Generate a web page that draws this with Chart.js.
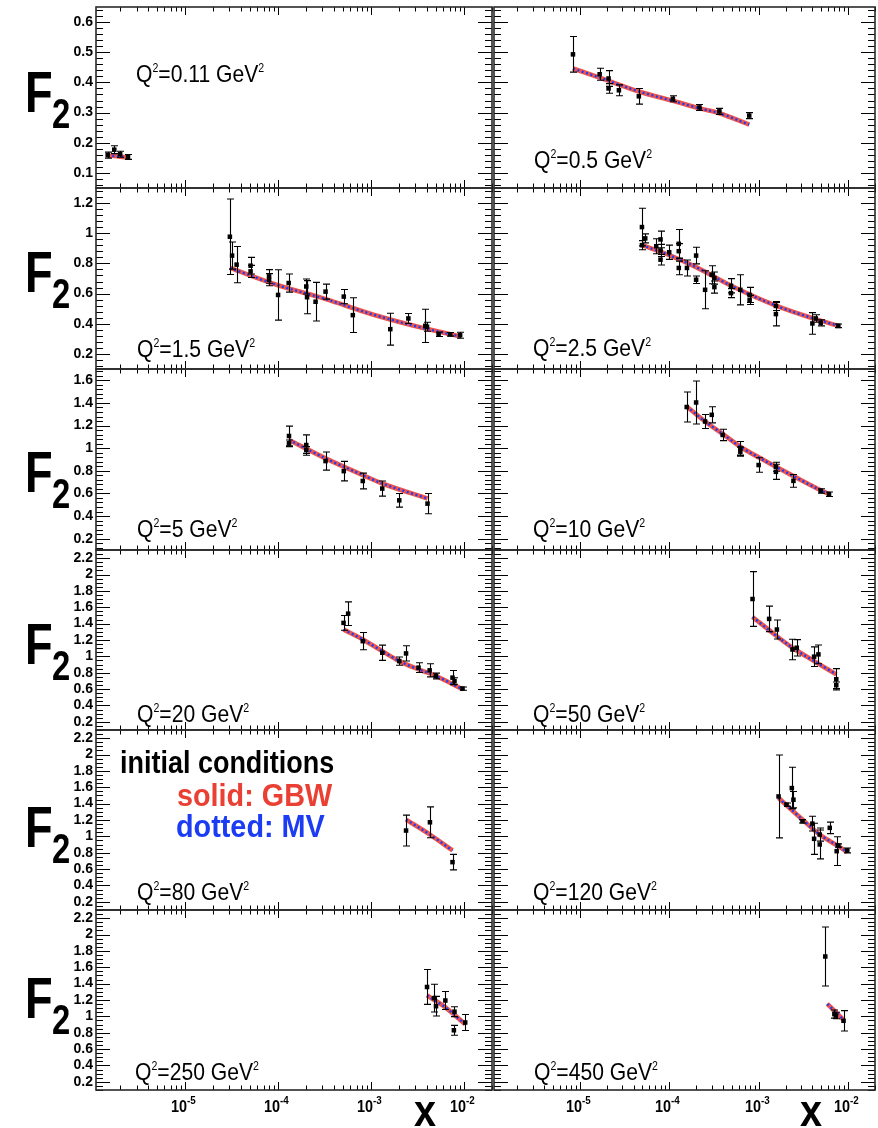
<!DOCTYPE html>
<html>
<head>
<meta charset="utf-8">
<title>F2 vs x</title>
<script src="https://cdn.jsdelivr.net/npm/chart.js@4.4.1/dist/chart.umd.min.js"></script>
<style>
  html, body { margin: 0; padding: 0; background: #fff; }
  #figura { position: relative; width: 878px; height: 1128px; overflow: hidden;
            font-family: "Liberation Sans", Arial, Helvetica, sans-serif; color: #000; }
  #figura canvas { position: absolute; }
  .rotulo { position: absolute; white-space: nowrap; transform-origin: 0 0; }
  .rotulo sup { font-size: 0.5em; vertical-align: 0.8em; line-height: 0; }
  .expoente sup { font-size: 0.68em; vertical-align: 0.7em; }
</style>
</head>
<body>
<div id="figura"></div>
<script>
const X_MIN = 1.1e-6;
const X_MAX = 0.02;

// Q2 = 0.11 GeV2
const x_011 = [1.47e-6, 1.73e-6, 2.0e-6, 2.43e-6];
const f2_011 = [0.159, 0.177, 0.162, 0.153];
const err_011 = [0.010, 0.013, 0.010, 0.008];
const fitX_011 = [1.47e-6, 2.0e-6, 2.5e-6];
const fitY_011 = [0.158, 0.154, 0.150];

// Q2 = 0.5 GeV2
const x_05 = [8.4e-6, 1.67e-5, 2.1e-5, 2.1e-5, 2.74e-5, 4.58e-5, 1.1e-4, 2.18e-4, 3.64e-4, 7.85e-4];
const f2_05 = [0.493, 0.427, 0.413, 0.380, 0.374, 0.354, 0.346, 0.317, 0.304, 0.290];
const err_05 = [0.059, 0.020, 0.026, 0.016, 0.018, 0.026, 0.010, 0.010, 0.010, 0.010];
const fitX_05 = [8.4e-6, 1.67e-5, 4.58e-5, 1.1e-4, 2.18e-4, 3.64e-4, 7.85e-4];
const fitY_05 = [0.446, 0.416, 0.370, 0.339, 0.314, 0.298, 0.260];

// Q2 = 1.5 GeV2
const x_15 = [3.03e-5, 3.2e-5, 3.58e-5, 5.06e-5, 5.06e-5, 8.0e-5, 8.0e-5, 1.0e-4, 1.3e-4, 2.01e-4, 2.05e-4,
              2.53e-4, 3.24e-4, 5.09e-4, 6.37e-4, 1.61e-3, 2.52e-3, 3.83e-3, 4.0e-3, 5.33e-3, 7.1e-3, 9.08e-3];
const f2_15 = [0.977, 0.852, 0.792, 0.785, 0.747, 0.714, 0.692, 0.591, 0.670, 0.647, 0.576,
               0.546, 0.613, 0.580, 0.457, 0.364, 0.435, 0.386, 0.380, 0.330, 0.330, 0.324];
const err_15 = [0.25, 0.09, 0.12, 0.055, 0.04, 0.045, 0.04, 0.167, 0.06, 0.05, 0.11,
                0.128, 0.05, 0.047, 0.115, 0.106, 0.033, 0.11, 0.03, 0.015, 0.012, 0.02];
const fitX_15 = [3.03e-5, 1.0e-4, 3.2e-4, 1.0e-3, 3.2e-3, 9.1e-3];
const fitY_15 = [0.770, 0.655, 0.565, 0.465, 0.380, 0.315];

// Q2 = 2.5 GeV2
const x_25 = [4.96e-5, 4.96e-5, 5.4e-5, 7.16e-5, 8.0e-5, 8.0e-5, 8.0e-5, 1.0e-4, 1.28e-4, 1.28e-4, 1.28e-4,
              1.58e-4, 2.0e-4, 2.0e-4, 2.52e-4, 2.99e-4, 3.2e-4, 3.2e-4, 4.91e-4, 4.91e-4, 6.24e-4,
              7.93e-4, 7.93e-4, 1.56e-3, 1.56e-3, 3.99e-3, 4.35e-3, 4.95e-3, 7.78e-3];
const f2_25 = [1.041, 0.921, 0.966, 0.914, 0.959, 0.886, 0.825, 0.874, 0.930, 0.881, 0.770,
               0.770, 0.852, 0.692, 0.625, 0.725, 0.703, 0.643, 0.652, 0.603, 0.625,
               0.591, 0.558, 0.464, 0.518, 0.402, 0.435, 0.406, 0.386];
const err_25 = [0.125, 0.03, 0.03, 0.05, 0.055, 0.04, 0.035, 0.047, 0.095, 0.05, 0.045,
                0.053, 0.055, 0.025, 0.126, 0.06, 0.04, 0.04, 0.047, 0.03, 0.10,
                0.05, 0.03, 0.078, 0.03, 0.072, 0.025, 0.02, 0.012];
const fitX_25 = [4.96e-5, 1.0e-4, 2.0e-4, 5.0e-4, 1.56e-3, 4.0e-3, 7.8e-3];
const fitY_25 = [0.921, 0.855, 0.775, 0.650, 0.520, 0.437, 0.386];

// Q2 = 5 GeV2
const x_5 = [1.31e-4, 1.31e-4, 2.01e-4, 2.01e-4, 3.24e-4, 5.09e-4, 8.15e-4, 1.32e-3, 2.01e-3, 4.05e-3];
const f2_5 = [1.108, 1.043, 1.028, 0.984, 0.886, 0.797, 0.710, 0.643, 0.539, 0.510];
const err_5 = [0.087, 0.03, 0.09, 0.03, 0.08, 0.086, 0.07, 0.067, 0.06, 0.09];
const fitX_5 = [1.31e-4, 3.24e-4, 8.15e-4, 1.32e-3, 4.05e-3];
const fitY_5 = [1.073, 0.910, 0.762, 0.688, 0.555];

// Q2 = 10 GeV2
const x_10 = [1.57e-4, 2.0e-4, 2.52e-4, 2.99e-4, 3.96e-4, 6.24e-4, 6.24e-4, 1.0e-3, 1.56e-3, 1.56e-3,
              2.45e-3, 4.94e-3, 6.12e-3];
const f2_10 = [1.364, 1.404, 1.236, 1.295, 1.117, 0.999, 0.969, 0.851, 0.791, 0.836,
               0.711, 0.622, 0.593];
const err_10 = [0.133, 0.19, 0.062, 0.071, 0.05, 0.06, 0.04, 0.064, 0.067, 0.04,
                0.056, 0.02, 0.02];
const fitX_10 = [1.57e-4, 2.52e-4, 3.96e-4, 6.24e-4, 1.0e-3, 1.56e-3, 2.45e-3, 4.94e-3, 6.3e-3];
const fitY_10 = [1.369, 1.236, 1.126, 1.013, 0.919, 0.836, 0.753, 0.628, 0.590];

// Q2 = 20 GeV2
const x_20 = [5.06e-4, 5.67e-4, 8.15e-4, 1.32e-3, 2.01e-3, 2.38e-3, 3.24e-3, 4.27e-3, 4.99e-3, 7.52e-3, 7.9e-3, 9.64e-3];
const f2_20 = [1.409, 1.522, 1.186, 1.044, 0.942, 1.036, 0.862, 0.829, 0.760, 0.740, 0.699, 0.606];
const err_20 = [0.09, 0.144, 0.105, 0.093, 0.05, 0.093, 0.06, 0.08, 0.035, 0.087, 0.04, 0.02];
const fitX_20 = [5.06e-4, 8.15e-4, 1.32e-3, 2.01e-3, 3.24e-3, 4.99e-3, 9.64e-3];
const fitY_20 = [1.328, 1.206, 1.064, 0.942, 0.841, 0.760, 0.598];

// Q2 = 50 GeV2
const x_50 = [8.55e-4, 1.31e-3, 1.6e-3, 2.39e-3, 2.67e-3, 4.17e-3, 4.66e-3, 7.38e-3, 7.38e-3];
const f2_50 = [1.701, 1.458, 1.328, 1.084, 1.105, 0.996, 1.024, 0.720, 0.647];
const err_50 = [0.335, 0.156, 0.116, 0.126, 0.10, 0.12, 0.115, 0.13, 0.04];
const fitX_50 = [8.55e-4, 1.6e-3, 2.39e-3, 4.17e-3, 7.38e-3];
const fitY_50 = [1.482, 1.246, 1.105, 0.942, 0.780];

// Q2 = 80 GeV2
const x_80 = [2.38e-3, 4.3e-3, 7.52e-3];
const f2_80 = [1.071, 1.172, 0.685];
const err_80 = [0.189, 0.189, 0.095];
const fitX_80 = [2.38e-3, 4.3e-3, 7.52e-3];
const fitY_80 = [1.205, 1.022, 0.828];

// Q2 = 120 GeV2
const x_120 = [1.67e-3, 2.05e-3, 2.35e-3, 2.45e-3, 3.09e-3, 3.99e-3, 4.17e-3, 4.82e-3, 4.82e-3, 6.24e-3,
               7.46e-3, 7.78e-3, 9.8e-3];
const f2_120 = [1.488, 1.387, 1.590, 1.448, 1.184, 1.156, 0.970, 0.901, 1.022, 1.104,
                0.819, 0.888, 0.828];
const err_120 = [0.507, 0.02, 0.255, 0.10, 0.02, 0.09, 0.19, 0.176, 0.08, 0.07,
                 0.176, 0.02, 0.03];
const fitX_120 = [1.67e-3, 3.09e-3, 4.82e-3, 7.78e-3, 9.8e-3];
const fitY_120 = [1.469, 1.205, 1.022, 0.880, 0.807];

// Q2 = 250 GeV2
const x_250 = [4.0e-3, 4.77e-3, 5.0e-3, 6.3e-3, 7.78e-3, 7.9e-3, 1.03e-2];
const f2_250 = [1.359, 1.223, 1.124, 1.194, 0.830, 1.057, 0.925];
const err_250 = [0.213, 0.17, 0.12, 0.11, 0.06, 0.06, 0.097];
const fitX_250 = [4.0e-3, 6.3e-3, 1.03e-2];
const fitY_250 = [1.256, 1.110, 0.904];

// Q2 = 450 GeV2
const x_450 = [5.56e-3, 7.03e-3, 7.3e-3, 8.9e-3];
const f2_450 = [1.732, 1.028, 1.010, 0.946];
const err_450 = [0.36, 0.05, 0.04, 0.124];
const fitX_450 = [5.86e-3, 8.9e-3];
const fitY_450 = [1.152, 0.958];

// eixos
const yMin = [0.05, 0.1, 0.1, 0.1, 0.1, 0.1];
const yMax = [0.65, 1.3, 1.7, 2.3, 2.3, 2.3];
const yTicks1 = [0.1, 0.2, 0.3, 0.4, 0.5, 0.6];
const yTicks2 = [0.2, 0.4, 0.6, 0.8, 1, 1.2];
const yTicks3 = [0.2, 0.4, 0.6, 0.8, 1, 1.2, 1.4, 1.6];
const yTicks4 = [0.2, 0.4, 0.6, 0.8, 1, 1.2, 1.4, 1.6, 1.8, 2, 2.2];
const yTicksLinha = [yTicks1, yTicks2, yTicks3, yTicks4, yTicks4, yTicks4];
const yPassoMenor = [0.02, 0.04, 0.04, 0.05, 0.05, 0.05];
const xDecadas = [1e-5, 1e-4, 1e-3, 1e-2];
const xExpoentes = ["-5", "-4", "-3", "-2"];

const paineis = [
    { q2: "0.11", x: x_011, f2: f2_011, err: err_011, fitX: fitX_011, fitY: fitY_011 },
    { q2: "0.5", x: x_05, f2: f2_05, err: err_05, fitX: fitX_05, fitY: fitY_05 },
    { q2: "1.5", x: x_15, f2: f2_15, err: err_15, fitX: fitX_15, fitY: fitY_15 },
    { q2: "2.5", x: x_25, f2: f2_25, err: err_25, fitX: fitX_25, fitY: fitY_25 },
    { q2: "5", x: x_5, f2: f2_5, err: err_5, fitX: fitX_5, fitY: fitY_5 },
    { q2: "10", x: x_10, f2: f2_10, err: err_10, fitX: fitX_10, fitY: fitY_10 },
    { q2: "20", x: x_20, f2: f2_20, err: err_20, fitX: fitX_20, fitY: fitY_20 },
    { q2: "50", x: x_50, f2: f2_50, err: err_50, fitX: fitX_50, fitY: fitY_50 },
    { q2: "80", x: x_80, f2: f2_80, err: err_80, fitX: fitX_80, fitY: fitY_80 },
    { q2: "120", x: x_120, f2: f2_120, err: err_120, fitX: fitX_120, fitY: fitY_120 },
    { q2: "250", x: x_250, f2: f2_250, err: err_250, fitX: fitX_250, fitY: fitY_250 },
    { q2: "450", x: x_450, f2: f2_450, err: err_450, fitX: fitX_450, fitY: fitY_450 }
];

// geometria dos pads (px)
const topoLinha = [7, 188, 369, 550, 730, 910];
const baseLinha = [188, 369, 550, 730, 910, 1090];
const esqColuna = [96, 493];
const dirColuna = [493, 876];
const posQ2 = [[136, 82], [534, 168], [137, 357], [533, 356], [137, 537], [533, 537],
               [137, 722], [533, 722], [137, 900], [533, 900], [135, 1080], [534, 1080]];
const baseF2 = [112, 292, 492, 664, 847, 1018];

const figura = document.getElementById("figura");
const FONTE = "'Liberation Sans', Arial, Helvetica, sans-serif";

function adicionarTexto(html, esquerda, base, tamanho, opcoes = {}) {
    const div = document.createElement("div");
    div.className = "rotulo" + (opcoes.classe ? " " + opcoes.classe : "");
    div.innerHTML = html;
    div.style.left = esquerda + "px";
    div.style.top = (base - 0.8465 * tamanho) + "px";
    div.style.fontSize = tamanho + "px";
    div.style.lineHeight = tamanho + "px";
    if (opcoes.negrito) div.style.fontWeight = "bold";
    if (opcoes.cor) div.style.color = opcoes.cor;
    if (opcoes.escala) div.style.transform = `scaleX(${opcoes.escala})`;
    figura.appendChild(div);
    return div;
}

function linhaNitida(ctx, x1, y1, x2, y2) {
    ctx.moveTo(x1, y1);
    ctx.lineTo(x2, y2);
}

// moldura, marcas dos eixos e barras de erro de cada pad
const decoracaoPad = {
    id: "decoracaoPad",
    afterDatasetsDraw(chart) {
        const ctx = chart.ctx;
        const xs = chart.scales.x;
        const ys = chart.scales.y;
        const pontos = chart.data.datasets[0];
        ctx.save();
        ctx.strokeStyle = "#000";
        ctx.lineWidth = 1.1;
        ctx.beginPath();
        pontos.data.forEach((p, i) => {
            const e = pontos.erros[i];
            const px = Math.round(xs.getPixelForValue(p.x)) + 0.5;
            const topo = ys.getPixelForValue(p.y + e);
            const base = ys.getPixelForValue(p.y - e);
            linhaNitida(ctx, px, topo, px, base);
            linhaNitida(ctx, px - 3.5, topo, px + 3.5, topo);
            linhaNitida(ctx, px - 3.5, base, px + 3.5, base);
        });
        ctx.stroke();
        ctx.restore();
    },
    afterDraw(chart, args, opcoes) {
        const ctx = chart.ctx;
        const xs = chart.scales.x;
        const ys = chart.scales.y;
        const { left, right, top, bottom } = chart.chartArea;
        const linha = opcoes.linha;
        ctx.save();
        ctx.strokeStyle = "#000";
        ctx.lineWidth = 1;
        ctx.beginPath();
        for (let k = -6; k <= -2; k++) {
            for (let m = 1; m <= 9; m++) {
                const v = m * Math.pow(10, k);
                if (v < X_MIN || v > X_MAX) continue;
                const px = Math.round(xs.getPixelForValue(v)) + 0.5;
                const comp = m === 1 ? 8 : 4.5;
                linhaNitida(ctx, px, top, px, top + comp);
                linhaNitida(ctx, px, bottom, px, bottom - comp);
            }
        }
        const passo = yPassoMenor[linha];
        const maiores = yTicksLinha[linha];
        for (let j = Math.ceil(yMin[linha] / passo); j * passo <= yMax[linha] + 1e-9; j++) {
            const v = j * passo;
            const py = Math.round(ys.getPixelForValue(v)) + 0.5;
            const maior = maiores.some(t => Math.abs(t - v) < 1e-6);
            const comp = maior ? 14 : 7;
            linhaNitida(ctx, left, py, left + comp, py);
            linhaNitida(ctx, right, py, right - comp, py);
        }
        ctx.stroke();
        ctx.strokeStyle = "#2a2a2a";
        ctx.lineWidth = 1.6;
        ctx.strokeRect(left, top, right - left, bottom - top);
        ctx.restore();
    }
};

function renderizarPainel(i) {
    const linha = Math.floor(i / 2);
    const coluna = i % 2;
    const p = paineis[i];
    // a folga de 12 px acima e abaixo cobre a meia altura dos rótulos do eixo y
    const margem = { left: coluna === 0 ? 40 : 3, right: 3, top: 12, bottom: linha === 5 ? 40 : 12 };
    const largura = dirColuna[coluna] - esqColuna[coluna] + margem.left + margem.right;
    const altura = baseLinha[linha] - topoLinha[linha] + margem.top + margem.bottom;
    const esquerdaCanvas = esqColuna[coluna] - margem.left;

    const canvas = document.createElement("canvas");
    canvas.width = largura;
    canvas.height = altura;
    canvas.style.left = esquerdaCanvas + "px";
    canvas.style.top = (topoLinha[linha] - margem.top) + "px";
    canvas.style.width = largura + "px";
    canvas.style.height = altura + "px";
    figura.appendChild(canvas);

    const curva = p.fitX.map((v, k) => ({ x: v, y: p.fitY[k] }));
    const grafico = new Chart(canvas, {
        type: "scatter",
        data: {
            datasets: [
                {
                    label: "dados",
                    data: p.x.map((v, k) => ({ x: v, y: p.f2[k] })),
                    erros: p.err,
                    pointStyle: "rect",
                    pointRadius: 3.2,
                    backgroundColor: "#000",
                    borderWidth: 0,
                    order: 0
                },
                {
                    label: "MV",
                    data: curva,
                    showLine: true,
                    borderColor: "#1f3cf2",
                    borderWidth: 2.4,
                    borderDash: [2, 2.6],
                    pointRadius: 0,
                    cubicInterpolationMode: "monotone",
                    order: 1
                },
                {
                    label: "GBW",
                    data: curva,
                    showLine: true,
                    borderColor: "rgba(236, 68, 58, 0.9)",
                    borderWidth: 4.6,
                    pointRadius: 0,
                    cubicInterpolationMode: "monotone",
                    order: 2
                }
            ]
        },
        options: {
            responsive: false,
            animation: false,
            devicePixelRatio: 1,
            events: [],
            layout: {
                padding: { left: coluna === 0 ? 3 : margem.left, right: margem.right, top: margem.top, bottom: margem.bottom }
            },
            plugins: {
                legend: { display: false },
                tooltip: { enabled: false },
                decoracaoPad: { linha: linha }
            },
            scales: {
                x: { type: "logarithmic", min: X_MIN, max: X_MAX, display: false },
                y: {
                    type: "linear",
                    min: yMin[linha],
                    max: yMax[linha],
                    display: coluna === 0,
                    grid: { display: false, drawTicks: false },
                    border: { display: false },
                    ticks: {
                        color: "#000",
                        padding: 3,
                        autoSkip: false,
                        font: { family: FONTE, weight: "bold", size: 14 },
                        callback: v => String(v)
                    },
                    afterBuildTicks: eixo => { eixo.ticks = yTicksLinha[linha].map(v => ({ value: v })); },
                    afterFit: eixo => { if (coluna === 0) eixo.width = 37; }
                }
            }
        },
        plugins: [decoracaoPad]
    });

    // rótulos Q2 e F2
    const [qx, qy] = posQ2[i];
    adicionarTexto(`Q<sup>2</sup>=${p.q2} GeV<sup>2</sup>`, qx, qy, 24, { escala: 0.88 });
    if (coluna === 0) {
        adicionarTexto("F", 25, baseF2[linha], 58, { negrito: true, escala: 0.78 });
        adicionarTexto("2", 52, baseF2[linha] + 17, 42, { negrito: true, escala: 0.78 });
    }

    // décadas do eixo x na última linha
    if (linha === 5) {
        xDecadas.forEach((v, k) => {
            const px = esquerdaCanvas + grafico.scales.x.getPixelForValue(v);
            adicionarTexto(`10<sup>${xExpoentes[k]}</sup>`, px - 14, 1112, 17, { negrito: true, escala: 0.85, classe: "expoente" });
        });
        const pxTitulo = esquerdaCanvas + grafico.scales.x.getPixelForValue(2.9e-3);
        adicionarTexto("x", pxTitulo, 1126, 44, { negrito: true, escala: 0.9 });
    }
    return grafico;
}

paineis.forEach((p, i) => renderizarPainel(i));

// legenda das condições iniciais
adicionarTexto("initial conditions", 120, 773, 31, { negrito: true, escala: 0.87 });
adicionarTexto("solid: GBW", 177, 806, 32, { negrito: true, escala: 0.9, cor: "#ea4034" });
adicionarTexto("dotted: MV", 176, 837, 32, { negrito: true, escala: 0.9, cor: "#1c3cf4" });
</script>
</body>
</html>
